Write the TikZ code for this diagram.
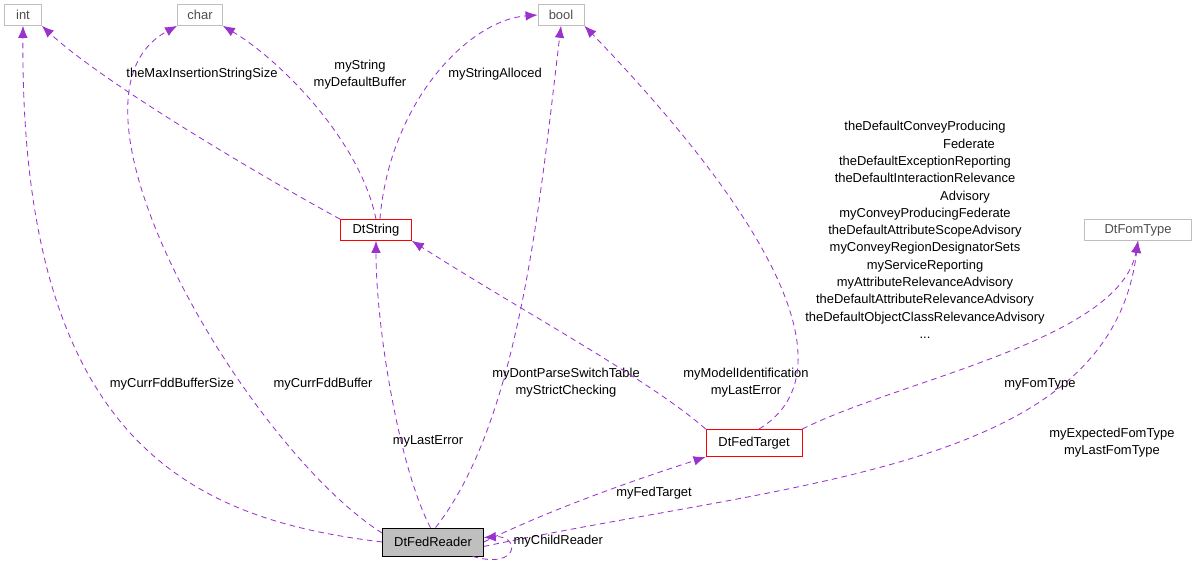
\documentclass[tikz,border=0pt]{standalone}
\usepackage{fontspec}
\setmainfont{Liberation Sans}
\usetikzlibrary{arrows.meta, positioning}
\definecolor{edgecol}{HTML}{9A32CD}
\definecolor{boxgray}{HTML}{BFBFBF}
\tikzset{
    x=0.025cm, y=-0.025cm,
    font=\fontsize{9.2}{12.3}\selectfont,
    cls/.style = {draw=boxgray, line width=0.6pt, inner sep=2.5pt, minimum height=0.52cm, text=black!70}, % plain class box
    red cls/.style = {draw=red, line width=0.6pt, inner sep=2.5pt, minimum height=0.52cm},
    edge/.style = {draw=edgecol, line width=0.6pt, dash pattern=on 4pt off 3pt, -{Latex[length=3mm,width=2.4mm]}},
    lbl/.style = {align=center, inner sep=1pt}
}
\begin{document}
\begin{tikzpicture}
    \useasboundingbox (0,0) rectangle (1196,563);
    \node[cls, minimum width=0.92cm] (int) at (23,15) {int};
    \node[cls, minimum width=1.12cm] (char) at (200,15) {char};
    \node[cls, minimum width=1.15cm] (bool) at (561,15) {bool};
    \node[red cls, minimum width=1.77cm] (dtstring) at (376,230) {DtString};
    \node[cls, minimum width=2.67cm] (dtfomtype) at (1138,230) {DtFomType};
    \node[red cls, minimum width=2.4cm, minimum height=0.68cm] (dtfedtarget) at (754,443) {DtFedTarget};
    \node[draw, line width=0.6pt, fill=boxgray, minimum width=2.52cm, minimum height=0.7cm, inner sep=2.5pt] (dtfedreader) at (433,542) {DtFedReader};
    % edges from DtFedReader
    \draw[edge] (dtfedreader.west) .. controls (200,520) and (20,450) .. (int.south);
    \node[lbl] at (172,384) {myCurrFddBufferSize};
    \draw[edge] (dtfedreader.170) .. controls (250,450) and (40,100) .. (char.south west);
    \node[lbl] at (323,384) {myCurrFddBuffer};
    \draw[edge] (dtfedreader.100) .. controls (400,470) and (376,330) .. (dtstring.south);
    \node[lbl] at (428,441) {myLastError};
    \draw[edge] (dtfedreader.80) .. controls (520,420) and (540,200) .. (bool.south);
    \node[lbl] at (566,383) {myDontParseSwitchTable\\myStrictChecking};
    \draw[edge] (dtfedreader.east) .. controls (560,505) and (650,475) .. (dtfedtarget.south west);
    \node[lbl] at (654,493) {myFedTarget};
    \draw[edge] (dtfedreader.-5) .. controls (800,480) and (1110,470) .. (dtfomtype.south);
    \node[lbl] at (1112,443) {myExpectedFomType\\myLastFomType};
    \draw[edge] (dtfedreader.-20) .. controls (520,570) and (520,535) .. (dtfedreader.5);
    \node[lbl, anchor=west] at (512,541) {myChildReader};
    % edges from DtString
    \draw[edge] (dtstring.north west) .. controls (250,170) and (100,80) .. (int.south east);
    \node[lbl] at (202,74) {theMaxInsertionStringSize};
    \draw[edge] (dtstring.north) .. controls (360,140) and (280,60) .. (char.south east);
    \node[lbl] at (360,75) {myString\\myDefaultBuffer};
    \draw[edge] (dtstring.70) .. controls (390,100) and (470,20) .. (bool.west);
    \node[lbl] at (495,74) {myStringAlloced};
    % edges from DtFedTarget
    \draw[edge] (dtfedtarget.north west) .. controls (650,380) and (520,310) .. (dtstring.south east);
    \node[lbl] at (746,383) {myModelIdentification\\myLastError};
    \draw[edge] (dtfedtarget.70) .. controls (840,380) and (800,250) .. (bool.south east);
    \node[lbl] at (925,230) {theDefaultConveyProducing\\\hspace*{2.2cm}Federate\\theDefaultExceptionReporting\\theDefaultInteractionRelevance\\\hspace*{2cm}Advisory\\myConveyProducingFederate\\theDefaultAttributeScopeAdvisory\\myConveyRegionDesignatorSets\\myServiceReporting\\myAttributeRelevanceAdvisory\\theDefaultAttributeRelevanceAdvisory\\theDefaultObjectClassRelevanceAdvisory\\...};
    \draw[edge] (dtfedtarget.north east) .. controls (900,380) and (1120,340) .. (dtfomtype.south);
    \node[lbl] at (1040,384) {myFomType};
\end{tikzpicture}
\end{document}
